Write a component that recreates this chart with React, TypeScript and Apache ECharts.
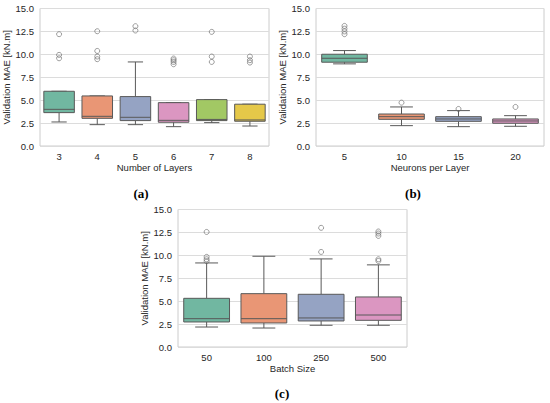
import React, { useEffect, useRef } from "react";
import * as echarts from "echarts";

// Panel (a): Number of Layers
const layersCats = ["3", "4", "5", "6", "7", "8"];
const layersMin = [2.62, 2.33, 2.33, 2.11, 2.55, 2.18];
const layersQ1 = [3.64, 3.02, 2.77, 2.59, 2.77, 2.7];
const layersMedian = [4.0, 3.24, 3.13, 2.8, 2.9, 2.84];
const layersQ3 = [5.97, 5.46, 5.39, 4.73, 5.06, 4.56];
const layersMax = [5.97, 5.46, 9.17, 4.73, 5.06, 4.56];
const layersOutliers = [
  [12.2, 9.94, 9.57],
  [12.52, 10.37, 9.76, 9.47],
  [13.07, 12.6],
  [9.54, 9.36, 9.17, 8.92],
  [12.45, 9.76, 9.17],
  [9.76, 9.36, 9.1],
];

// Panel (b): Neurons per Layer
const neuronCats = ["5", "10", "15", "20"];
const neuronMin = [8.96, 2.22, 2.11, 2.15];
const neuronQ1 = [9.14, 2.91, 2.69, 2.48];
const neuronMedian = [9.57, 3.2, 2.95, 2.73];
const neuronQ3 = [10.01, 3.49, 3.2, 2.95];
const neuronMax = [10.41, 4.26, 3.86, 3.31];
const neuronOutliers = [[13.1, 12.8, 12.5, 12.2], [4.73], [4.04], [4.26]];

// Panel (c): Batch Size
const batchCats = ["50", "100", "250", "500"];
const batchMin = [2.18, 2.07, 2.37, 2.37];
const batchQ1 = [2.73, 2.62, 2.84, 2.91];
const batchMedian = [3.09, 3.09, 3.17, 3.49];
const batchQ3 = [5.31, 5.82, 5.75, 5.46];
const batchMax = [9.17, 9.9, 9.61, 8.96];
const batchOutliers = [[12.55, 9.83, 9.57, 9.36], [], [13.0, 10.37], [12.6, 12.38, 12.12, 9.57, 9.39]];

const yTicks = { min: 0, max: 15, interval: 2.5 };
const xNames = ["Number of Layers", "Neurons per Layer", "Batch Size"];
const yName = "Validation MAE [kN.m]";
const captions = ["(a)", "(b)", "(c)"];

const palette = ["#71b7a1", "#e99675", "#95a3c3", "#db96c1", "#a2c864", "#e5c849"];
const EDGE = "#595959";
const TEXT = "#262626";
const FONT = "Liberation Sans";

function boxData(mins: number[], q1: number[], med: number[], q3: number[], maxs: number[]) {
  return mins.map((m, i) => [i, m, q1[i], med[i], q3[i], maxs[i]]);
}
function outlierData(out: number[][]) {
  const res: number[][] = [];
  out.forEach((arr, i) => arr.forEach((v) => res.push([i, v])));
  return res;
}

const renderBox = (params: any, api: any) => {
  const x = api.value(0);
  const lo = api.coord([x, api.value(1)]);
  const q1 = api.coord([x, api.value(2)]);
  const md = api.coord([x, api.value(3)]);
  const q3 = api.coord([x, api.value(4)]);
  const hi = api.coord([x, api.value(5)]);
  const band = api.size([1, 0])[0];
  const bw = band * 0.8;
  const cw = band * 0.4;
  const cx = lo[0];
  const ls = { stroke: EDGE, lineWidth: 1 };
  return {
    type: "group",
    children: [
      { type: "line", shape: { x1: cx, y1: q3[1], x2: cx, y2: hi[1] }, style: ls },
      { type: "line", shape: { x1: cx, y1: q1[1], x2: cx, y2: lo[1] }, style: ls },
      { type: "line", shape: { x1: cx - cw / 2, y1: hi[1], x2: cx + cw / 2, y2: hi[1] }, style: ls },
      { type: "line", shape: { x1: cx - cw / 2, y1: lo[1], x2: cx + cw / 2, y2: lo[1] }, style: ls },
      {
        type: "rect",
        shape: { x: cx - bw / 2, y: q3[1], width: bw, height: q1[1] - q3[1] },
        style: { fill: palette[params.dataIndex], stroke: EDGE, lineWidth: 1 },
      },
      { type: "line", shape: { x1: cx - bw / 2, y1: md[1], x2: cx + bw / 2, y2: md[1] }, style: ls },
    ],
  };
};

export default function App() {
  const ref = useRef<HTMLDivElement>(null);
  useEffect(() => {
    if (!ref.current) return;
    const chart = echarts.init(ref.current, undefined, { renderer: "svg" });
    const grids = [
      { left: 40, top: 8.5, width: 229, height: 137.5 },
      { left: 316, top: 8.5, width: 228, height: 137.5 },
      { left: 178, top: 209.5, width: 229, height: 137.5 },
    ];
    const cats = [layersCats, neuronCats, batchCats];
    const boxes = [
      boxData(layersMin, layersQ1, layersMedian, layersQ3, layersMax),
      boxData(neuronMin, neuronQ1, neuronMedian, neuronQ3, neuronMax),
      boxData(batchMin, batchQ1, batchMedian, batchQ3, batchMax),
    ];
    const outs = [outlierData(layersOutliers), outlierData(neuronOutliers), outlierData(batchOutliers)];
    const option: any = {
      animation: false,
      backgroundColor: "#ffffff",
      grid: grids.map((g) => ({ ...g, show: true, borderColor: "#cccccc", borderWidth: 1, backgroundColor: "transparent" })),
      xAxis: cats.map((c, i) => ({
        type: "category",
        gridIndex: i,
        data: c,
        boundaryGap: true,
        name: xNames[i],
        nameLocation: "middle",
        nameGap: 16,
        nameTextStyle: { color: TEXT, fontSize: 9.5, fontFamily: FONT },
        axisLine: { show: false },
        axisTick: { show: false },
        splitLine: { show: false },
        axisLabel: { color: TEXT, fontSize: 9.5, fontFamily: FONT, margin: 5 },
      })),
      yAxis: cats.map((_, i) => ({
        type: "value",
        gridIndex: i,
        ...yTicks,
        name: yName,
        nameLocation: "middle",
        nameGap: 27,
        nameTextStyle: { color: TEXT, fontSize: 9.5, fontFamily: FONT },
        axisLine: { show: false },
        axisTick: { show: false },
        splitLine: { show: true, lineStyle: { color: "#dcdcdc", width: 1 } },
        axisLabel: {
          color: TEXT,
          fontSize: 9.5,
          fontFamily: FONT,
          margin: 6,
          formatter: (v: number) => v.toFixed(1),
        },
      })),
      series: [
        ...boxes.map((d, i) => ({
          type: "custom",
          xAxisIndex: i,
          yAxisIndex: i,
          data: d,
          encode: { x: 0, y: [1, 2, 3, 4, 5] },
          renderItem: renderBox,
          z: 2,
        })),
        ...outs.map((d, i) => ({
          type: "scatter",
          xAxisIndex: i,
          yAxisIndex: i,
          data: d,
          symbol: "circle",
          symbolSize: 5,
          itemStyle: { color: "rgba(0,0,0,0)", borderColor: "#666666", borderWidth: 0.8 },
          z: 3,
        })),
      ],
      graphic: [
        { x: 141, y: 193 },
        { x: 413, y: 193 },
        { x: 282, y: 393 },
      ].map((p, i) => ({
        type: "text",
        x: p.x,
        y: p.y,
        style: {
          text: captions[i],
          fill: "#000000",
          fontSize: 13,
          fontWeight: "bold",
          fontFamily: "Liberation Serif",
          align: "center",
          verticalAlign: "middle",
        },
      })),
    };
    chart.setOption(option);
    return () => chart.dispose();
  }, []);
  return <div ref={ref} style={{ position: "fixed", left: 0, top: 0, width: 550, height: 403 }} />;
}
